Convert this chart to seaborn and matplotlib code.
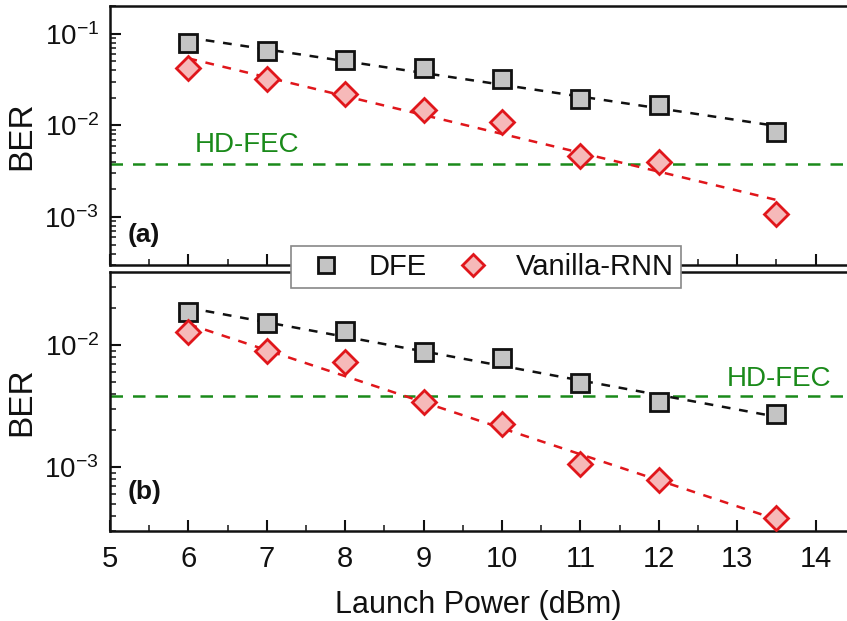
import numpy as np
import pandas as pd
import matplotlib
matplotlib.use("Agg")
import matplotlib.pyplot as plt
from matplotlib.lines import Line2D
from matplotlib.ticker import LogLocator, MultipleLocator, NullFormatter
import seaborn as sns

# Launch power values (dBm)
launch_power = [6, 7, 8, 9, 10, 11, 12, 13.5]

# Panel (a) BER
dfe_a = [0.080, 0.064, 0.052, 0.042, 0.032, 0.0196, 0.0166, 0.0084]
rnn_a = [0.0426, 0.032, 0.022, 0.0146, 0.0108, 0.0046, 0.0040, 0.00108]

# Panel (b) BER
dfe_b = [0.0186, 0.0151, 0.0130, 0.00877, 0.0078, 0.0049, 0.0034, 0.0027]
rnn_b = [0.0128, 0.0089, 0.0072, 0.0034, 0.00225, 0.00106, 0.00078, 0.00038]

hd_fec = 3.8e-3
series_names = ["DFE", "Vanilla-RNN"]

sns.set_theme(style="ticks")
plt.rcParams["font.family"] = ["Liberation Sans", "DejaVu Sans"]
plt.rcParams["mathtext.fontset"] = "custom"
plt.rcParams["mathtext.rm"] = "Liberation Sans"
plt.rcParams["mathtext.it"] = "Liberation Sans"
plt.rcParams["text.color"] = "#111111"
plt.rcParams["axes.labelcolor"] = "#111111"

fig = plt.figure(figsize=(8.47, 6.21), dpi=100)
ax_a = fig.add_axes([0.1299, 0.5733, 0.8701, 0.417])
ax_b = fig.add_axes([0.1299, 0.1449, 0.8701, 0.417])

styles = {
    "DFE": dict(marker="s", face="#c4c4c4", edge="#111111", line="#111111", size=13),
    "Vanilla-RNN": dict(marker="D", face="#f6b9b9", edge="#e0161b", line="#e0161b", size=12),
}


def draw_panel(ax, dfe, rnn, ylim, tag, fec_xy, fec_ha):
    df = pd.DataFrame({
        "power": launch_power * 2,
        "ber": dfe + rnn,
        "scheme": ["DFE"] * len(dfe) + ["Vanilla-RNN"] * len(rnn),
    })
    xs = np.array(launch_power, dtype=float)
    for name in series_names:
        sub = df[df["scheme"] == name]
        st = styles[name]
        # log-linear trend line
        coef = np.polyfit(sub["power"], np.log10(sub["ber"]), 1)
        fit = pd.DataFrame({"power": [xs.min(), xs.max()]})
        fit["ber"] = 10 ** np.polyval(coef, fit["power"])
        sns.lineplot(data=fit, x="power", y="ber", ax=ax, color=st["line"],
                     linestyle=(0, (3.5, 3.5)), linewidth=1.8, zorder=2)
        ax.plot(sub["power"], sub["ber"], linestyle="none", marker=st["marker"],
                markersize=st["size"], markerfacecolor=st["face"],
                markeredgecolor=st["edge"], markeredgewidth=2.0, zorder=3)
    ax.axhline(hd_fec, color="#1a8a1a", linestyle=(0, (5, 4)), linewidth=1.8, zorder=1)
    ax.text(fec_xy[0], fec_xy[1], "HD-FEC", color="#1a8a1a", fontsize=20,
            ha=fec_ha, va="bottom")
    ax.text(5.22, ylim[0] * 2.1, tag, fontsize=19, fontweight="bold", va="center")

    ax.set_yscale("log")
    ax.set_ylim(*ylim)
    ax.set_xlim(5, 14.4)
    ax.set_ylabel("BER", fontsize=24)
    ax.set_xlabel("")
    ax.yaxis.set_major_locator(LogLocator(base=10, numticks=10))
    ax.yaxis.set_minor_locator(LogLocator(base=10, subs=np.arange(2, 10), numticks=20))
    ax.yaxis.set_minor_formatter(NullFormatter())
    ax.xaxis.set_major_locator(MultipleLocator(1))
    ax.xaxis.set_minor_locator(MultipleLocator(0.5))
    ax.tick_params(axis="both", which="major", direction="in", length=8, width=1.5,
                   labelsize=21, colors="#111111")
    ax.tick_params(axis="y", which="major", labelsize=20, pad=8)
    ax.tick_params(axis="x", which="major", pad=10)
    ax.tick_params(axis="both", which="minor", direction="in", length=4.5, width=1.2)
    ax.tick_params(axis="x", top=False)
    ax.tick_params(axis="y", right=False)
    for side in ["left", "bottom", "top"]:
        ax.spines[side].set_linewidth(1.8)
        ax.spines[side].set_color("#111111")
    ax.spines["right"].set_visible(False)


draw_panel(ax_a, dfe_a, rnn_a, (3.0e-4, 0.20), "(a)", (6.08, 4.4e-3), "left")
draw_panel(ax_b, dfe_b, rnn_b, (3.0e-4, 0.0396), "(b)", (14.2, 4.15e-3), "right")

ax_a.tick_params(axis="x", labelbottom=False)
ax_b.set_xlabel("Launch Power (dBm)", fontsize=22, labelpad=12)
ax_a.yaxis.set_label_coords(-0.099, 0.5)
ax_b.yaxis.set_label_coords(-0.099, 0.5)

handles = [
    Line2D([], [], linestyle="none", marker="s", markersize=12,
           markerfacecolor=styles["DFE"]["face"], markeredgecolor=styles["DFE"]["edge"],
           markeredgewidth=2.0),
    Line2D([], [], linestyle="none", marker="D", markersize=11,
           markerfacecolor=styles["Vanilla-RNN"]["face"],
           markeredgecolor=styles["Vanilla-RNN"]["edge"], markeredgewidth=2.0),
]
leg = fig.legend(handles, series_names, loc="center", bbox_to_anchor=(0.574, 0.570),
                 ncol=2, fontsize=21, frameon=True, fancybox=False, framealpha=1,
                 edgecolor="#888888", handletextpad=0.5, columnspacing=0.65,
                 borderpad=0.25, handlelength=1.9)
leg.get_frame().set_linewidth(1.2)

fig.savefig("out.png", dpi=100)
